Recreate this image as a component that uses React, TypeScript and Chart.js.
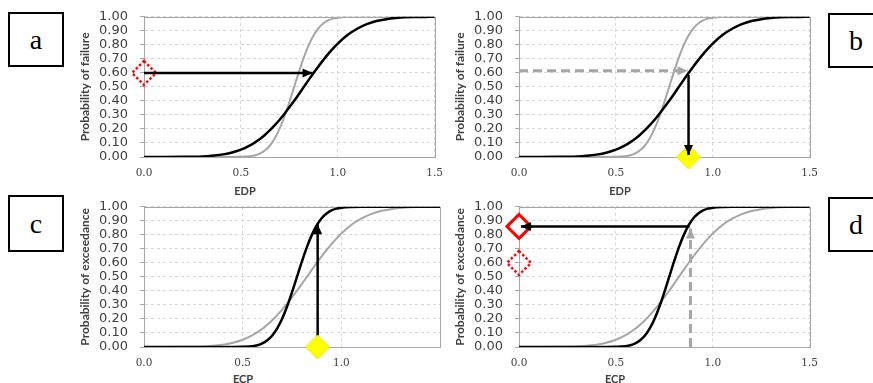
import React, { useEffect, useRef } from 'react';
import { Chart, registerables } from 'chart.js';

Chart.register(...registerables);

// ---------- data ----------
const X_VALUES = [0, 0.1, 0.2, 0.25, 0.3, 0.35, 0.4, 0.45, 0.5, 0.55, 0.575, 0.6, 0.625, 0.65, 0.675, 0.7, 0.725, 0.75, 0.775, 0.8, 0.825, 0.85, 0.875, 0.9, 0.925, 0.95, 0.975, 1.0, 1.05, 1.1, 1.15, 1.2, 1.25, 1.3, 1.35, 1.4, 1.45, 1.5];
// steep curve (gray in a/b, black in c/d)
const STEEP_CURVE = [0, 0, 0, 0, 0, 0, 0, 0, 0.001, 0.006, 0.013, 0.026, 0.048, 0.082, 0.133, 0.202, 0.289, 0.391, 0.5, 0.609, 0.711, 0.798, 0.867, 0.918, 0.952, 0.974, 0.987, 0.994, 0.999, 1, 1, 1, 1, 1, 1, 1, 1, 1];
// wide curve (black in a/b, gray in c/d)
const WIDE_CURVE = [0, 0, 0.001, 0.002, 0.004, 0.009, 0.017, 0.03, 0.052, 0.085, 0.106, 0.13, 0.159, 0.191, 0.227, 0.266, 0.309, 0.354, 0.401, 0.45, 0.5, 0.55, 0.599, 0.646, 0.691, 0.734, 0.773, 0.809, 0.87, 0.915, 0.948, 0.97, 0.983, 0.991, 0.996, 0.998, 0.999, 1];

const Y_TICK_LABELS = ['0.00', '0.10', '0.20', '0.30', '0.40', '0.50', '0.60', '0.70', '0.80', '0.90', '1.00'];
const X_TICK_LABELS = ['0.0', '0.5', '1.0', '1.5'];
const X_TICK_LABELS_C = ['0.0', '0.5', '1.0', ''];

// annotation points [x, y]
const A_ARROW = [[0, 0.6], [0.87, 0.6]];
const A_DOTTED = [0, 0.6];

const B_DASHED_ARROW = [[0, 0.615], [0.87, 0.615]];
const B_ARROW = [[0.875, 0.585], [0.875, 0.015]];
const B_YELLOW = [0.875, 0];

const C_ARROW = [[0.88, 0.0], [0.88, 0.875]];
const C_YELLOW = [0.88, 0];

const D_ARROW = [[0.88, 0.86], [0.01, 0.86]];
const D_DASHED_ARROW = [[0.885, 0], [0.885, 0.845]];
const D_RED = [0, 0.86];
const D_DOTTED = [0, 0.6];

// ---------- styles ----------
const GRAY = '#a6a6a6';
const BLACK = '#000000';
const GRID = '#d6d6d6';
const TEXT = '#404040';

function makeDottedDiamond(): HTMLCanvasElement {
  const c = document.createElement('canvas');
  c.width = 30;
  c.height = 30;
  const ctx = c.getContext('2d')!;
  ctx.strokeStyle = '#ff0000';
  ctx.lineWidth = 2.5;
  ctx.setLineDash([2.5, 2.2]);
  ctx.beginPath();
  ctx.moveTo(15, 3);
  ctx.lineTo(27, 15);
  ctx.lineTo(15, 27);
  ctx.lineTo(3, 15);
  ctx.closePath();
  ctx.stroke();
  return c;
}

function curve(ys: number[], color: string, width: number, order: number) {
  return {
    data: X_VALUES.map((x, i) => ({ x, y: ys[i] })),
    borderColor: color,
    borderWidth: width,
    pointRadius: 0,
    cubicInterpolationMode: 'monotone',
    fill: false,
    order,
  };
}

function arrow(pts: number[][], color: string, width: number, dash: number[], order: number) {
  return {
    data: pts.map(([x, y]) => ({ x, y })),
    borderColor: color,
    backgroundColor: color,
    borderWidth: width,
    borderDash: dash,
    pointRadius: 0,
    clip: false,
    arrowHead: true,
    order,
  };
}

function marker(p: number[], style: any, bg: string, border: string, bw: number, order: number) {
  return {
    data: [{ x: p[0], y: p[1] }],
    showLine: false,
    pointStyle: style,
    pointRadius: 12,
    pointBackgroundColor: bg,
    pointBorderColor: border,
    pointBorderWidth: bw,
    borderColor: border,
    backgroundColor: bg,
    clip: false,
    order,
  };
}

const framePlugin = {
  id: 'frame',
  beforeDatasetsDraw(chart: any) {
    const { ctx, chartArea } = chart;
    const l = Math.round(chartArea.left) + 0.5;
    const t = Math.round(chartArea.top) + 0.5;
    const r = Math.round(chartArea.right) + 0.5;
    const b = Math.round(chartArea.bottom) + 0.5;
    ctx.save();
    ctx.strokeStyle = GRAY;
    ctx.lineWidth = 1;
    ctx.setLineDash([]);
    ctx.strokeRect(l, t, r - l, b - t);
    ctx.restore();
  },
};

const arrowHeadPlugin = {
  id: 'arrowHeads',
  afterDatasetsDraw(chart: any) {
    const ctx = chart.ctx;
    chart.data.datasets.forEach((ds: any, i: number) => {
      if (!ds.arrowHead) return;
      const pts = chart.getDatasetMeta(i).data;
      const p1 = pts[pts.length - 2];
      const p2 = pts[pts.length - 1];
      const ang = Math.atan2(p2.y - p1.y, p2.x - p1.x);
      const len = 10;
      const half = 4.5;
      ctx.save();
      ctx.fillStyle = ds.borderColor;
      ctx.translate(p2.x, p2.y);
      ctx.rotate(ang);
      ctx.beginPath();
      ctx.moveTo(0, 0);
      ctx.lineTo(-len, -half);
      ctx.lineTo(-len, half);
      ctx.closePath();
      ctx.fill();
      ctx.restore();
    });
  },
};

type PanelDef = {
  id: string;
  left: number;
  top: number;
  yTitle: string;
  xLabels: string[];
  build: (dotted: HTMLCanvasElement) => any[];
};

const CANVAS_W = 381;
const CANVAS_H = 184;

const PANELS: PanelDef[] = [
  {
    id: 'a', left: 72, top: -3, yTitle: 'Probability of failure', xLabels: X_TICK_LABELS,
    build: (dotted) => [
      curve(WIDE_CURVE, BLACK, 2.5, 10),
      curve(STEEP_CURVE, GRAY, 2, 11),
      arrow(A_ARROW, BLACK, 2.5, [], 3),
      marker(A_DOTTED, dotted, 'rgba(0,0,0,0)', '#ff0000', 0, 4),
    ],
  },
  {
    id: 'b', left: 447, top: -3, yTitle: 'Probability of failure', xLabels: X_TICK_LABELS,
    build: () => [
      curve(WIDE_CURVE, BLACK, 2.5, 10),
      curve(STEEP_CURVE, GRAY, 2, 11),
      arrow(B_DASHED_ARROW, GRAY, 3, [9, 5], 3),
      arrow(B_ARROW, BLACK, 2.5, [], 2),
      marker(B_YELLOW, 'rectRot', '#ffff00', '#e8e800', 1, 4),
    ],
  },
  {
    id: 'c', left: 72, top: 187, yTitle: 'Probability of exceedance', xLabels: X_TICK_LABELS_C,
    build: () => [
      curve(STEEP_CURVE, BLACK, 2.5, 10),
      curve(WIDE_CURVE, GRAY, 2, 11),
      arrow(C_ARROW, BLACK, 2.5, [], 4),
      marker(C_YELLOW, 'rectRot', '#ffff00', '#e8e800', 1, 3),
    ],
  },
  {
    id: 'd', left: 447, top: 187, yTitle: 'Probability of exceedance', xLabels: X_TICK_LABELS,
    build: (dotted) => [
      curve(STEEP_CURVE, BLACK, 2.5, 10),
      curve(WIDE_CURVE, GRAY, 2, 11),
      arrow(D_DASHED_ARROW, GRAY, 3, [9, 5], 3),
      arrow(D_ARROW, BLACK, 2.5, [], 2),
      marker(D_RED, 'rectRot', '#ffffff', '#ff0000', 3, 4),
      marker(D_DOTTED, dotted, 'rgba(0,0,0,0)', '#ff0000', 0, 4),
    ],
  },
];

function Panel({ def }: { def: PanelDef }) {
  const ref = useRef<HTMLCanvasElement | null>(null);
  useEffect(() => {
    if (!ref.current) return;
    const dotted = makeDottedDiamond();
    const chart = new Chart(ref.current, {
      type: 'line',
      data: { datasets: def.build(dotted) as any },
      options: {
        animation: false,
        responsive: false,
        events: [],
        layout: { padding: { left: 0, top: 0, right: 10, bottom: 0 } },
        plugins: { legend: { display: false }, tooltip: { enabled: false } },
        scales: {
          x: {
            type: 'linear',
            min: 0,
            max: 1.5,
            ticks: {
              stepSize: 0.5,
              autoSkip: false,
              maxRotation: 0,
              callback: (_v: any, i: number) => def.xLabels[i],
              font: { family: '"DejaVu Serif"', size: 10.5 },
              color: TEXT,
              padding: 10,
            },
            grid: { color: GRID, drawTicks: false, lineWidth: 1 },
            border: { display: true, color: GRAY, width: 1, dash: [3, 3] },
            afterFit: (s: any) => { s.height = 24; },
          },
          y: {
            min: 0,
            max: 1,
            ticks: {
              stepSize: 0.1,
              autoSkip: false,
              callback: (_v: any, i: number) => Y_TICK_LABELS[i],
              font: { family: '"DejaVu Sans"', size: 13 },
              color: TEXT,
              padding: 12,
            },
            grid: { color: GRID, tickLength: 4, tickColor: GRAY, lineWidth: 1 },
            border: { display: true, color: GRAY, width: 1, dash: [3, 3] },
            title: {
              display: true,
              text: def.yTitle,
              font: { family: 'Lato', weight: 'bold', size: 12 },
              color: TEXT,
              padding: { top: 6, bottom: 0 },
            },
            afterFit: (s: any) => { s.width = 72; },
          },
        },
      } as any,
      plugins: [framePlugin, arrowHeadPlugin],
    });
    return () => chart.destroy();
  }, [def]);
  return (
    <canvas
      ref={ref}
      width={CANVAS_W}
      height={CANVAS_H}
      style={{ position: 'absolute', left: def.left, top: def.top, width: CANVAS_W, height: CANVAS_H }}
    />
  );
}

const X_TITLES = [
  { text: 'EDP', x: 245, y: 190 },
  { text: 'EDP', x: 620, y: 190 },
  { text: 'ECP', x: 243, y: 378 },
  { text: 'ECP', x: 615, y: 378 },
];

const LETTER_BOXES = [
  { text: 'a', x: 8, y: 12, h: 55 },
  { text: 'b', x: 828, y: 13, h: 55 },
  { text: 'c', x: 8, y: 195, h: 57 },
  { text: 'd', x: 828, y: 197, h: 55 },
];

export default function App() {
  return (
    <div
      style={{
        position: 'fixed', left: 0, top: 0, width: 873, height: 383,
        overflow: 'hidden', background: '#ffffff',
      }}
    >
      {PANELS.map((p) => <Panel key={p.id} def={p} />)}
      {X_TITLES.map((t, i) => (
        <div
          key={i}
          style={{
            position: 'absolute', left: t.x, top: t.y, transform: 'translate(-50%, -50%)',
            fontFamily: 'Lato, sans-serif', fontWeight: 'bold', fontSize: 11, lineHeight: 1, color: TEXT,
            whiteSpace: 'nowrap',
          }}
        >
          {t.text}
        </div>
      ))}
      {LETTER_BOXES.map((b) => (
        <div
          key={b.text}
          style={{
            position: 'absolute', left: b.x, top: b.y, width: 56, height: b.h, boxSizing: 'border-box',
            border: '2px solid #000', background: '#fff',
            fontFamily: '"Liberation Serif", "Times New Roman", serif', fontSize: 28,
            lineHeight: `${b.h - 4}px`, textAlign: 'center', color: '#000',
          }}
        >
          {b.text}
        </div>
      ))}
    </div>
  );
}
